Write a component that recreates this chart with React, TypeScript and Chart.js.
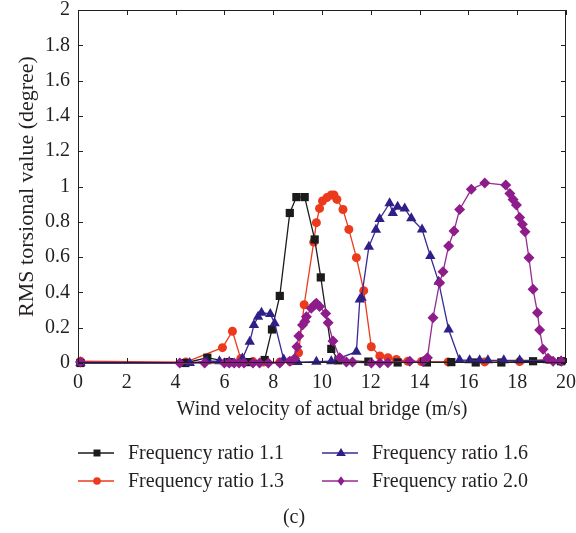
import React, { useEffect, useRef } from "react";
import { Chart, registerables } from "chart.js";

Chart.register(...registerables);

const FONT = "'Liberation Serif', 'Times New Roman', serif";
const TEXT = "#231f20";

// Frequency ratio 1.1
const x11 = [0.1, 4.4, 5.3, 6.2, 7.0, 7.65, 7.95, 8.27, 8.68, 8.95, 9.29, 9.7, 9.95, 10.38, 10.67, 11.9, 13.1, 14.3, 15.3, 16.3, 17.35, 18.65, 19.8];
const y11 = [0, 0, 0.03, 0.005, 0.005, 0.017, 0.19, 0.38, 0.85, 0.94, 0.94, 0.7, 0.485, 0.08, 0.015, 0.008, 0.003, 0.003, 0.005, 0.003, 0.003, 0.01, 0.01];

// Frequency ratio 1.3
const x13 = [0.1, 4.42, 5.92, 6.33, 6.67, 7.17, 7.6, 8.27, 8.7, 9.04, 9.27, 9.66, 9.77, 9.9, 10.02, 10.2, 10.38, 10.49, 10.61, 10.86, 11.1, 11.41, 11.71, 12.02, 12.37, 12.7, 13.05, 13.52, 14.07, 15.17, 16.67, 18.1, 19.26, 19.8];
const y13 = [0.01, 0.005, 0.087, 0.18, 0.025, 0.008, 0.005, 0.005, 0.01, 0.058, 0.33, 0.685, 0.795, 0.876, 0.918, 0.937, 0.952, 0.952, 0.927, 0.87, 0.757, 0.597, 0.41, 0.092, 0.04, 0.03, 0.02, 0.01, 0.008, 0.006, 0.006, 0.008, 0.02, 0.01];

// Frequency ratio 1.6
const x16 = [0.1, 4.58, 5.26, 5.8, 6.2, 6.74, 7.04, 7.21, 7.38, 7.52, 7.88, 8.06, 8.43, 9.0, 9.77, 10.38, 11.41, 11.55, 11.62, 11.92, 12.21, 12.36, 12.77, 12.9, 13.1, 13.39, 13.66, 14.1, 14.44, 14.78, 15.19, 15.64, 16.05, 16.46, 16.8, 17.45, 18.1, 19.26, 19.8];
const y16 = [0, 0, 0.01, 0.01, 0.005, 0.025, 0.12, 0.215, 0.262, 0.285, 0.278, 0.225, 0.02, 0.005, 0.007, 0.01, 0.064, 0.36, 0.37, 0.658, 0.755, 0.816, 0.905, 0.85, 0.885, 0.876, 0.82, 0.757, 0.606, 0.46, 0.19, 0.017, 0.015, 0.015, 0.015, 0.015, 0.015, 0.015, 0.01];

// Frequency ratio 2.0
const x20 = [0.1, 4.17, 5.19, 6.0, 6.2, 6.4, 6.6, 6.8, 7.17, 7.44, 7.8, 8.27, 8.68, 8.88, 8.97, 9.05, 9.2, 9.3, 9.36, 9.56, 9.7, 9.77, 9.9, 10.15, 10.25, 10.45, 10.73, 11.0, 11.25, 12.02, 12.37, 12.7, 13.6, 14.14, 14.32, 14.55, 14.82, 14.96, 15.19, 15.41, 15.64, 16.12, 16.67, 17.53, 17.7, 17.83, 17.97, 18.1, 18.21, 18.32, 18.48, 18.65, 18.83, 18.92, 19.06, 19.26, 19.47, 19.8];
const y20 = [0.005, 0, 0, 0, 0, 0, 0, 0, 0, 0, 0, 0, 0.01, 0.025, 0.092, 0.153, 0.215, 0.235, 0.262, 0.31, 0.33, 0.338, 0.32, 0.28, 0.228, 0.125, 0.03, 0.005, 0.005, 0, 0, 0.002, 0.01, 0.008, 0.03, 0.257, 0.455, 0.517, 0.663, 0.748, 0.87, 0.984, 1.02, 1.008, 0.96, 0.927, 0.895, 0.825, 0.786, 0.744, 0.597, 0.418, 0.285, 0.187, 0.078, 0.027, 0.01, 0.01];

const seriesLabels = ["Frequency ratio 1.1", "Frequency ratio 1.3", "Frequency ratio 1.6", "Frequency ratio 2.0"];
const xTitle = "Wind velocity of actual bridge (m/s)";
const yTitle = "RMS torsional value (degree)";
const caption = "(c)";

const toPts = (xs: number[], ys: number[]) => xs.map((x, i) => ({ x, y: ys[i] }));

function drawMarker(ctx: CanvasRenderingContext2D, style: string, r: number, x: number, y: number, color: string) {
  ctx.save();
  ctx.fillStyle = color;
  ctx.beginPath();
  if (style === "rect") {
    const s = r * Math.SQRT1_2;
    ctx.rect(x - s, y - s, 2 * s, 2 * s);
  } else if (style === "circle") {
    ctx.arc(x, y, r, 0, Math.PI * 2);
  } else if (style === "triangle") {
    ctx.moveTo(x, y - r);
    ctx.lineTo(x + r * 0.95, y + r * 0.6);
    ctx.lineTo(x - r * 0.95, y + r * 0.6);
    ctx.closePath();
  } else {
    ctx.moveTo(x, y - r);
    ctx.lineTo(x + r * 0.75, y);
    ctx.lineTo(x, y + r);
    ctx.lineTo(x - r * 0.75, y);
    ctx.closePath();
  }
  ctx.fill();
  ctx.restore();
}

const frameAndLegend = {
  id: "frameAndLegend",
  afterDraw(chart: any) {
    const { ctx, chartArea: a, scales } = chart;
    ctx.save();
    ctx.strokeStyle = "#231f20";
    ctx.lineWidth = 1;
    ctx.strokeRect(a.left + 0.5, a.top + 0.5, a.right - a.left - 1, a.bottom - a.top - 1);
    const tl = 5;
    ctx.beginPath();
    scales.x.ticks.forEach((t: any) => {
      const px = Math.round(scales.x.getPixelForValue(t.value)) + 0.5;
      ctx.moveTo(px, a.bottom);
      ctx.lineTo(px, a.bottom - tl);
      ctx.moveTo(px, a.top);
      ctx.lineTo(px, a.top + tl);
    });
    scales.y.ticks.forEach((t: any) => {
      const py = Math.round(scales.y.getPixelForValue(t.value)) + 0.5;
      ctx.moveTo(a.left, py);
      ctx.lineTo(a.left + tl, py);
      ctx.moveTo(a.right, py);
      ctx.lineTo(a.right - tl, py);
    });
    ctx.stroke();

    // legend (column-major: 1.1, 1.3 | 1.6, 2.0)
    const cols = [78, 322];
    const rows = [453, 481];
    chart.data.datasets.forEach((ds: any, i: number) => {
      const cx = cols[Math.floor(i / 2)];
      const cy = rows[i % 2];
      ctx.strokeStyle = ds.borderColor;
      ctx.lineWidth = 1.4;
      ctx.beginPath();
      ctx.moveTo(cx, cy);
      ctx.lineTo(cx + 36, cy);
      ctx.stroke();
      drawMarker(ctx, ds.pointStyle, ds.pointRadius * 0.85, cx + 19, cy, ds.pointBackgroundColor);
      ctx.fillStyle = TEXT;
      ctx.font = `20px ${FONT}`;
      ctx.textBaseline = "middle";
      ctx.textAlign = "left";
      ctx.fillText(ds.label, cx + 50, cy + 1);
    });
    ctx.fillStyle = TEXT;
    ctx.font = `20px ${FONT}`;
    ctx.textAlign = "center";
    ctx.textBaseline = "middle";
    ctx.fillText(caption, 294, 518);
    ctx.restore();
  },
};

export default function App() {
  const ref = useRef<HTMLCanvasElement | null>(null);
  useEffect(() => {
    if (!ref.current) return;
    const mk = (label: string, data: any[], color: string, line: string, style: string, radius: number, order: number) => ({
      label,
      data,
      borderColor: line,
      backgroundColor: color,
      pointBackgroundColor: color,
      pointBorderColor: color,
      pointBorderWidth: 0,
      pointStyle: style,
      pointRadius: radius,
      borderWidth: 1.3,
      tension: 0,
      clip: 10,
      order,
    });
    const chart = new Chart(ref.current, {
      type: "line",
      data: {
        datasets: [
          mk(seriesLabels[0], toPts(x11, y11), "#1b1b1b", "#1b1b1b", "rect", 5.8, 2),
          mk(seriesLabels[1], toPts(x13, y13), "#ec3a1d", "#ec3a1d", "circle", 4.5, 3),
          mk(seriesLabels[2], toPts(x16, y16), "#2f2089", "#3a2a95", "triangle", 6, 1),
          mk(seriesLabels[3], toPts(x20, y20), "#8f1c8b", "#962a92", "rectRot", 5.5, 0),
        ],
      },
      options: {
        responsive: false,
        animation: false,
        events: [],
        layout: { padding: { top: 0, right: 0, bottom: 110, left: 0 } },
        plugins: { legend: { display: false }, tooltip: { enabled: false } },
        scales: {
          x: {
            type: "linear",
            min: 0,
            max: 20,
            afterFit: (s: any) => {
              s.height = 60;
              s.paddingLeft = 0;
              s.paddingRight = 10;
            },
            grid: { display: false, drawTicks: false },
            border: { display: false },
            ticks: {
              stepSize: 2,
              color: TEXT,
              padding: 10,
              maxRotation: 0,
              font: { family: FONT, size: 20, lineHeight: 1 },
              callback: (v: any) => String(Number(Number(v).toFixed(1))),
            },
            title: {
              display: true,
              text: xTitle,
              color: TEXT,
              font: { family: FONT, size: 20 },
              padding: { top: 0, bottom: 1 },
            },
          },
          y: {
            type: "linear",
            min: 0,
            max: 2,
            afterFit: (s: any) => {
              s.width = 78;
              s.paddingTop = 10;
              s.paddingBottom = 0;
            },
            grid: { display: false, drawTicks: false },
            border: { display: false },
            ticks: {
              stepSize: 0.2,
              color: TEXT,
              padding: 8,
              font: { family: FONT, size: 20, lineHeight: 1 },
              callback: (v: any) => String(Number(Number(v).toFixed(1))),
            },
            title: {
              display: true,
              text: yTitle,
              color: TEXT,
              font: { family: FONT, size: 22 },
              padding: { top: 14, bottom: 0 },
            },
          },
        },
      },
      plugins: [frameAndLegend],
    } as any);
    return () => chart.destroy();
  }, []);
  return (
    <div style={{ position: "absolute", left: 0, top: 0, width: 576, height: 533, background: "#fff" }}>
      <canvas ref={ref} width={576} height={533} style={{ display: "block", width: 576, height: 533 }} />
    </div>
  );
}
